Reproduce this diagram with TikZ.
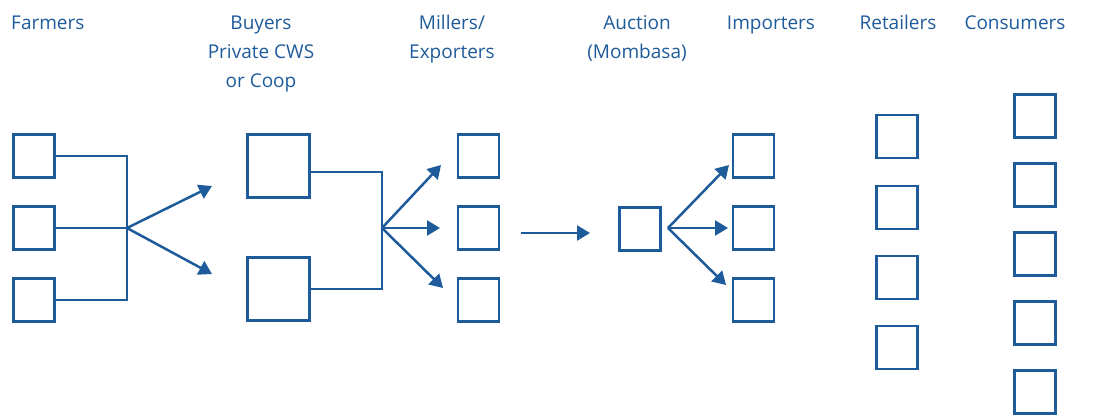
\documentclass[tikz,border=0pt]{standalone}
\usepackage{fontspec}
\setmainfont{Open Sans}
\usetikzlibrary{arrows.meta}
\definecolor{cblue}{HTML}{1E5B9B}
\tikzset{
  box/.style={draw=cblue, line width=2.8pt, minimum width=41pt, minimum height=43pt, inner sep=0pt},
  bigbox/.style={box, minimum width=62pt, minimum height=63pt},
  link/.style={draw=cblue, line width=2.5pt},
  arr/.style={link, -{Triangle[length=13pt,width=15pt]}},
  lbl/.style={text=cblue, font=\fontsize{19}{29}\selectfont, inner sep=0pt, anchor=base, align=center}
}
\begin{document}
\begin{tikzpicture}[x=1pt,y=-1pt]
\useasboundingbox (0,0) rectangle (1100,415);
% labels (base anchor = baseline of last line)
\node[lbl, anchor=base west] (tf) at (11,29) {Farmers};
\node[lbl] (tb) at (261,87) {Buyers\\Private CWS\\or Coop};
\node[lbl] (tm) at (452,58) {Millers/\\Exporters};
\node[lbl] (ta) at (637,58) {Auction\\(Mombasa)};
\node[lbl] (ti) at (771,29) {Importers};
\node[lbl] (tr) at (898,29) {Retailers};
\node[lbl] (tc) at (1015,29) {Consumers};
% farmers
\node[box] (f1) at (34,156) {};
\node[box] (f2) at (34,228) {};
\node[box] (f3) at (34,300) {};
% buyers
\node[bigbox] (b1) at (278.5,166) {};
\node[bigbox] (b2) at (278.5,289) {};
% millers
\node[box] (m1) at (478.5,156) {};
\node[box] (m2) at (478.5,228) {};
\node[box] (m3) at (478.5,300) {};
% auction
\node[box] (a1) at (640,229) {};
% importers
\node[box] (i1) at (753.5,156) {};
\node[box] (i2) at (753.5,228) {};
\node[box] (i3) at (753.5,300) {};
% retailers
\node[box] (r1) at (897,136.5) {};
\node[box] (r2) at (897,207.5) {};
\node[box] (r3) at (897,277.5) {};
\node[box] (r4) at (897,347.5) {};
% consumers
\node[box] (c1) at (1035,116) {};
\node[box] (c2) at (1035,185) {};
\node[box] (c3) at (1035,254) {};
\node[box] (c4) at (1035,323) {};
\node[box] (c5) at (1035,392) {};
% junctions and arrow ends
\coordinate (fj) at (127,228);
\coordinate (fa1) at (212,186);
\coordinate (fa2) at (212,274);
\coordinate (bj) at (382,228);
\coordinate (ba1) at (441,165);
\coordinate (ba2) at (440,228);
\coordinate (ba3) at (443,288);
\coordinate (ms) at (521,233);
\coordinate (me) at (590,233);
\coordinate (aj) at (668,228);
\coordinate (aa1) at (729,165);
\coordinate (aa2) at (728,228);
\coordinate (aa3) at (726,285);
% farmer connectors
\draw[link] (f1.east) -| (fj);
\draw[link] (f3.east) -| (fj);
\draw[link] (f2.east) -- (fj);
\draw[arr] (fj) -- (fa1);
\draw[arr] (fj) -- (fa2);
% buyer connectors
\draw[link] ([yshift=-6pt]b1.east) -| (bj);
\draw[link] (b2.east) -| (bj);
\draw[arr] (bj) -- (ba1);
\draw[arr] (bj) -- (ba2);
\draw[arr] (bj) -- (ba3);
% miller to auction
\draw[arr] (ms) -- (me);
% auction connectors
\draw[arr] (aj) -- (aa1);
\draw[arr] (aj) -- (aa2);
\draw[arr] (aj) -- (aa3);
\end{tikzpicture}
\end{document}
